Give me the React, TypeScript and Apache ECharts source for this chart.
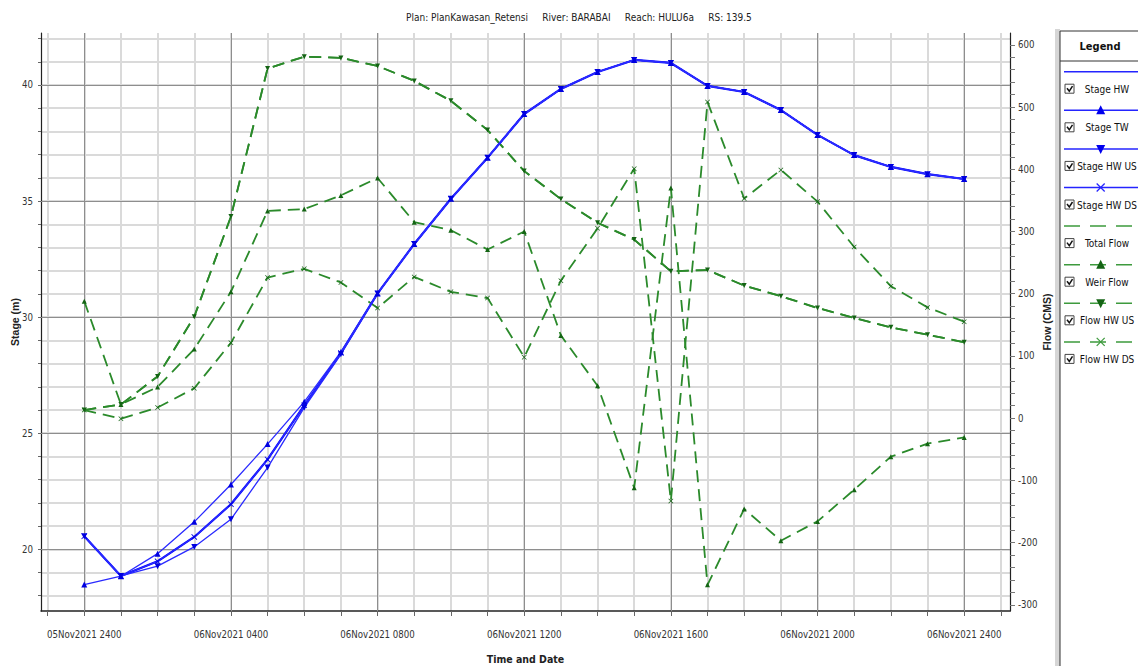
import React, { useEffect, useRef } from 'react';
import * as echarts from 'echarts';

// ---------- data ----------
const TITLE = 'Plan: PlanKawasan_Retensi\u00a0\u00a0\u00a0\u00a0\u00a0River: BARABAI\u00a0\u00a0\u00a0\u00a0\u00a0Reach: HULU6a\u00a0\u00a0\u00a0\u00a0\u00a0RS: 139.5';

const hours = [0, 1, 2, 3, 4, 5, 6, 7, 8, 9, 10, 11, 12, 13, 14, 15, 16, 17, 18, 19, 20, 21, 22, 23, 24];
const xTickHours = [0, 4, 8, 12, 16, 20, 24];
const xTickLabels = [
  '05Nov2021 2400', '06Nov2021 0400', '06Nov2021 0800', '06Nov2021 1200',
  '06Nov2021 1600', '06Nov2021 2000', '06Nov2021 2400',
];
const stageTickLabels = [20, 25, 30, 35, 40];
const flowTickLabels = [-300, -200, -100, 0, 100, 200, 300, 400, 500, 600];

const stageHW = [20.56, 18.85, 19.48, 20.53, 21.94, 23.87, 26.2, 28.45, 31.02, 33.15, 35.1, 36.87, 38.75, 39.83, 40.56, 41.08, 40.95, 39.96, 39.7, 38.92, 37.85, 36.98, 36.47, 36.16, 35.95];
const stageTW = [18.48, 18.84, 19.81, 21.18, 22.79, 24.53, 26.35, 28.5, 31.02, 33.15, 35.1, 36.87, 38.75, 39.83, 40.56, 41.08, 40.95, 39.96, 39.7, 38.92, 37.85, 36.98, 36.47, 36.16, 35.95];
const stageHWUS = [20.56, 18.85, 19.27, 20.1, 21.29, 23.52, 26.1, 28.4, 31.02, 33.15, 35.1, 36.87, 38.75, 39.83, 40.56, 41.08, 40.95, 39.96, 39.7, 38.92, 37.85, 36.98, 36.47, 36.16, 35.95];
const stageHWDS = [20.56, 18.85, 19.48, 20.53, 21.94, 23.87, 26.2, 28.45, 31.02, 33.15, 35.1, 36.87, 38.75, 39.83, 40.56, 41.08, 40.95, 39.96, 39.7, 38.92, 37.85, 36.98, 36.47, 36.16, 35.95];

const totalFlow = [13, 22, 67, 163, 324, 562, 581, 579, 566, 542, 510, 463, 397, 352, 314, 287, 236, 238, 213, 196, 177, 161, 146, 134, 122];
const weirFlow = [188, 22, 50, 111, 203, 333, 336, 358, 386, 315, 302, 271, 300, 133, 52, -112, 370, -268, -146, -197, -166, -115, -62, -41, -31];
const flowHWUS = [13, 22, 67, 163, 324, 562, 581, 579, 566, 542, 510, 463, 397, 352, 314, 287, 236, 238, 213, 196, 177, 161, 146, 134, 122];
const flowHWDS = [13, -1, 17, 48, 121, 226, 240, 218, 177, 227, 203, 193, 98, 221, 305, 401, -133, 508, 353, 399, 348, 275, 212, 178, 155];

const legendNames = ['Stage HW', 'Stage TW', 'Stage HW US', 'Stage HW DS', 'Total Flow', 'Weir Flow', 'Flow HW US', 'Flow HW DS'];

// ---------- styling / layout ----------
const NARROW = '"Liberation Sans Narrow", "DejaVu Sans Condensed", "Liberation Sans", sans-serif';
const REG = '"Liberation Sans", Arial, sans-serif';
const BLUE = '#0000ff';
const BLUE_THIN = '#2a2aff';
const GREEN = '#2b8a2b';
const GREEN_DARK = '#146414';
const X_PATH = 'path://M0,1L1,0L5,4L9,0L10,1L6,5L10,9L9,10L5,6L1,10L0,9L4,5Z';

const X_MIN = -1.18, X_MAX = 25.25;
const S_MIN = 17.34, S_MAX = 42.24;
const F_MIN = -310, F_MAX = 619;

const hourTicks: number[] = [];
for (let h = -1; h <= 25; h++) hourTicks.push(h);
const stageMinor: number[] = [];
for (let s = 18; s <= 42; s++) stageMinor.push(s);
const flowMinor: number[] = [];
for (let f = -300; f <= 600; f += 20) flowMinor.push(f);

const pair = (ys: number[]) => hours.map((h, i) => [h, ys[i]]);

function buildLegend(): any[] {
  const els: any[] = [];
  const L = 1060;
  els.push({ type: 'rect', shape: { x: 1055, y: 29, width: 5, height: 650 }, style: { fill: '#d6d6d6' }, silent: true });
  els.push({ type: 'rect', shape: { x: L, y: 31, width: 120, height: 660 }, style: { fill: '#fff', stroke: '#333', lineWidth: 1 }, silent: true });
  els.push({ type: 'line', shape: { x1: L, y1: 61, x2: 1140, y2: 61 }, style: { stroke: '#333', lineWidth: 1 }, silent: true });
  els.push({ type: 'text', x: 1100, y: 46, style: { text: 'Legend', align: 'center', verticalAlign: 'middle', fontFamily: NARROW, fontWeight: 'bold', fontSize: 11, fill: '#111' }, silent: true });
  legendNames.forEach((name, i) => {
    const ly = 71.7 + i * 38.6;
    const ty = ly + 17.5;
    const isFlow = i >= 4;
    const col = isFlow ? '#3d9a3d' : '#2424ff';
    els.push({ type: 'line', shape: { x1: 1064, y1: ly, x2: 1140, y2: ly }, style: { stroke: col, lineWidth: 1.5, lineDash: isFlow ? [16, 10] : null }, silent: true });
    const mx = 1100.7;
    const mcol = isFlow ? GREEN_DARK : '#0000ee';
    const k = i % 4;
    if (k === 1) {
      els.push({ type: 'polygon', shape: { points: [[mx - 4.5, ly + 4], [mx + 4.5, ly + 4], [mx, ly - 5]] }, style: { fill: mcol }, silent: true });
    } else if (k === 2) {
      els.push({ type: 'polygon', shape: { points: [[mx - 4.5, ly - 4], [mx + 4.5, ly - 4], [mx, ly + 5]] }, style: { fill: mcol }, silent: true });
    } else if (k === 3) {
      els.push({ type: 'line', shape: { x1: mx - 4, y1: ly - 4, x2: mx + 4, y2: ly + 4 }, style: { stroke: col, lineWidth: 1.2 }, silent: true });
      els.push({ type: 'line', shape: { x1: mx - 4, y1: ly + 4, x2: mx + 4, y2: ly - 4 }, style: { stroke: col, lineWidth: 1.2 }, silent: true });
    }
    els.push({ type: 'rect', shape: { x: 1065, y: ty - 5, width: 9, height: 9 }, style: { fill: '#fff', stroke: '#444', lineWidth: 1 }, silent: true });
    els.push({ type: 'polyline', shape: { points: [[1067, ty - 1], [1069.3, ty + 2], [1072.5, ty - 3]] }, style: { stroke: '#111', lineWidth: 1.5, fill: null }, silent: true });
    els.push({ type: 'text', x: 1107, y: ty, style: { text: name, align: 'center', verticalAlign: 'middle', fontFamily: NARROW, fontSize: 10, fill: '#111' }, silent: true });
  });
  return els;
}

function buildOption(): any {
  const lbl = { fontFamily: NARROW, fontSize: 9.6, color: '#333' };
  const lightSplit = { show: true, lineStyle: { color: '#dadada', width: 2 } };
  const darkSplit = { show: true, lineStyle: { color: '#8e8e8e', width: 1 } };
  const hiddenBits = { axisLine: { show: false }, axisLabel: { show: false } };

  const blueLine = (name: string, data: number[], symbol: any, rotate: number, width: number, color: string) => ({
    name, type: 'line', xAxisIndex: 0, yAxisIndex: 0, data: pair(data),
    symbol, symbolRotate: rotate, symbolSize: 6, showSymbol: symbol !== 'none',
    lineStyle: { color, width }, itemStyle: { color: '#0000e0' }, z: 5,
  });
  const greenLine = (name: string, data: number[], symbol: any, rotate: number) => ({
    name, type: 'line', xAxisIndex: 0, yAxisIndex: 1, data: pair(data),
    symbol, symbolRotate: rotate, symbolSize: 5, showSymbol: symbol !== 'none',
    lineStyle: { color: GREEN, width: 1.8, type: [12, 7] }, itemStyle: { color: GREEN_DARK }, z: 4,
  });

  return {
    animation: false,
    backgroundColor: '#ffffff',
    title: {
      text: TITLE, left: 401, top: 7,
      textStyle: { fontFamily: NARROW, fontSize: 10, fontWeight: 'normal', color: '#222' },
    },
    grid: { left: 41, right: 128, top: 33, bottom: 55, containLabel: false, outerBoundsMode: 'none' },
    xAxis: [
      {
        type: 'value', min: X_MIN, max: X_MAX, position: 'bottom',
        name: 'Time and Date', nameLocation: 'middle', nameGap: 42, nameMoveOverlap: false,
        nameTextStyle: { fontFamily: NARROW, fontWeight: 'bold', fontSize: 10.5, color: '#222' },
        axisLine: { show: true, onZero: false, lineStyle: { color: '#222', width: 1.5 } },
        axisTick: { show: true, customValues: hourTicks, length: 5, lineStyle: { color: '#666' } },
        axisLabel: {
          ...lbl, margin: 18, customValues: xTickHours,
          formatter: (v: number) => { const i = xTickHours.indexOf(Math.round(v)); return i >= 0 ? xTickLabels[i] : ''; },
        },
        splitLine: lightSplit,
      },
      {
        type: 'value', min: X_MIN, max: X_MAX, position: 'bottom', z: 1,
        ...hiddenBits, axisTick: { show: false, customValues: xTickHours },
        splitLine: darkSplit,
      },
    ],
    yAxis: [
      {
        type: 'value', min: S_MIN, max: S_MAX, position: 'left',
        name: 'Stage (m)', nameLocation: 'middle', nameGap: 21, nameMoveOverlap: false,
        nameTextStyle: { fontFamily: REG, fontWeight: 'bold', fontSize: 10.5, color: '#222' },
        axisLine: { show: true, onZero: false, lineStyle: { color: '#222', width: 1.2 } },
        axisTick: { show: true, customValues: stageMinor, length: 3, lineStyle: { color: '#666' } },
        axisLabel: { ...lbl, margin: 8, customValues: stageTickLabels },
        splitLine: lightSplit,
      },
      {
        type: 'value', min: F_MIN, max: F_MAX, position: 'right',
        name: 'Flow (CMS)', nameLocation: 'middle', nameGap: 31, nameMoveOverlap: false,
        nameTextStyle: { fontFamily: REG, fontWeight: 'bold', fontSize: 10.5, color: '#222' },
        axisLine: { show: true, onZero: false, lineStyle: { color: '#222', width: 1.2 } },
        axisTick: { show: true, customValues: flowMinor, length: 5, lineStyle: { color: '#777' } },
        axisLabel: { ...lbl, margin: 8, customValues: flowTickLabels },
        splitLine: { show: false },
      },
      {
        type: 'value', min: S_MIN, max: S_MAX, position: 'left', z: 1,
        ...hiddenBits, axisTick: { show: false, customValues: stageTickLabels },
        splitLine: darkSplit,
      },
    ],
    series: [
      blueLine('Stage HW', stageHW, 'none', 0, 2.2, BLUE),
      blueLine('Stage TW', stageTW, 'triangle', 0, 1.3, BLUE_THIN),
      blueLine('Stage HW US', stageHWUS, 'triangle', 180, 1.3, BLUE_THIN),
      blueLine('Stage HW DS', stageHWDS, X_PATH, 0, 1.3, BLUE_THIN),
      greenLine('Total Flow', totalFlow, 'none', 0),
      greenLine('Weir Flow', weirFlow, 'triangle', 0),
      greenLine('Flow HW US', flowHWUS, 'triangle', 180),
      greenLine('Flow HW DS', flowHWDS, X_PATH, 0),
    ],
    graphic: buildLegend(),
  };
}

export default function App() {
  const ref = useRef<HTMLDivElement>(null);
  useEffect(() => {
    if (!ref.current) return;
    const chart = echarts.init(ref.current, null, { renderer: 'svg' });
    chart.setOption(buildOption());
    return () => chart.dispose();
  }, []);
  return (
    <div
      ref={ref}
      style={{ position: 'fixed', left: 0, top: 0, width: 1138, height: 666, background: '#fff' }}
    />
  );
}
